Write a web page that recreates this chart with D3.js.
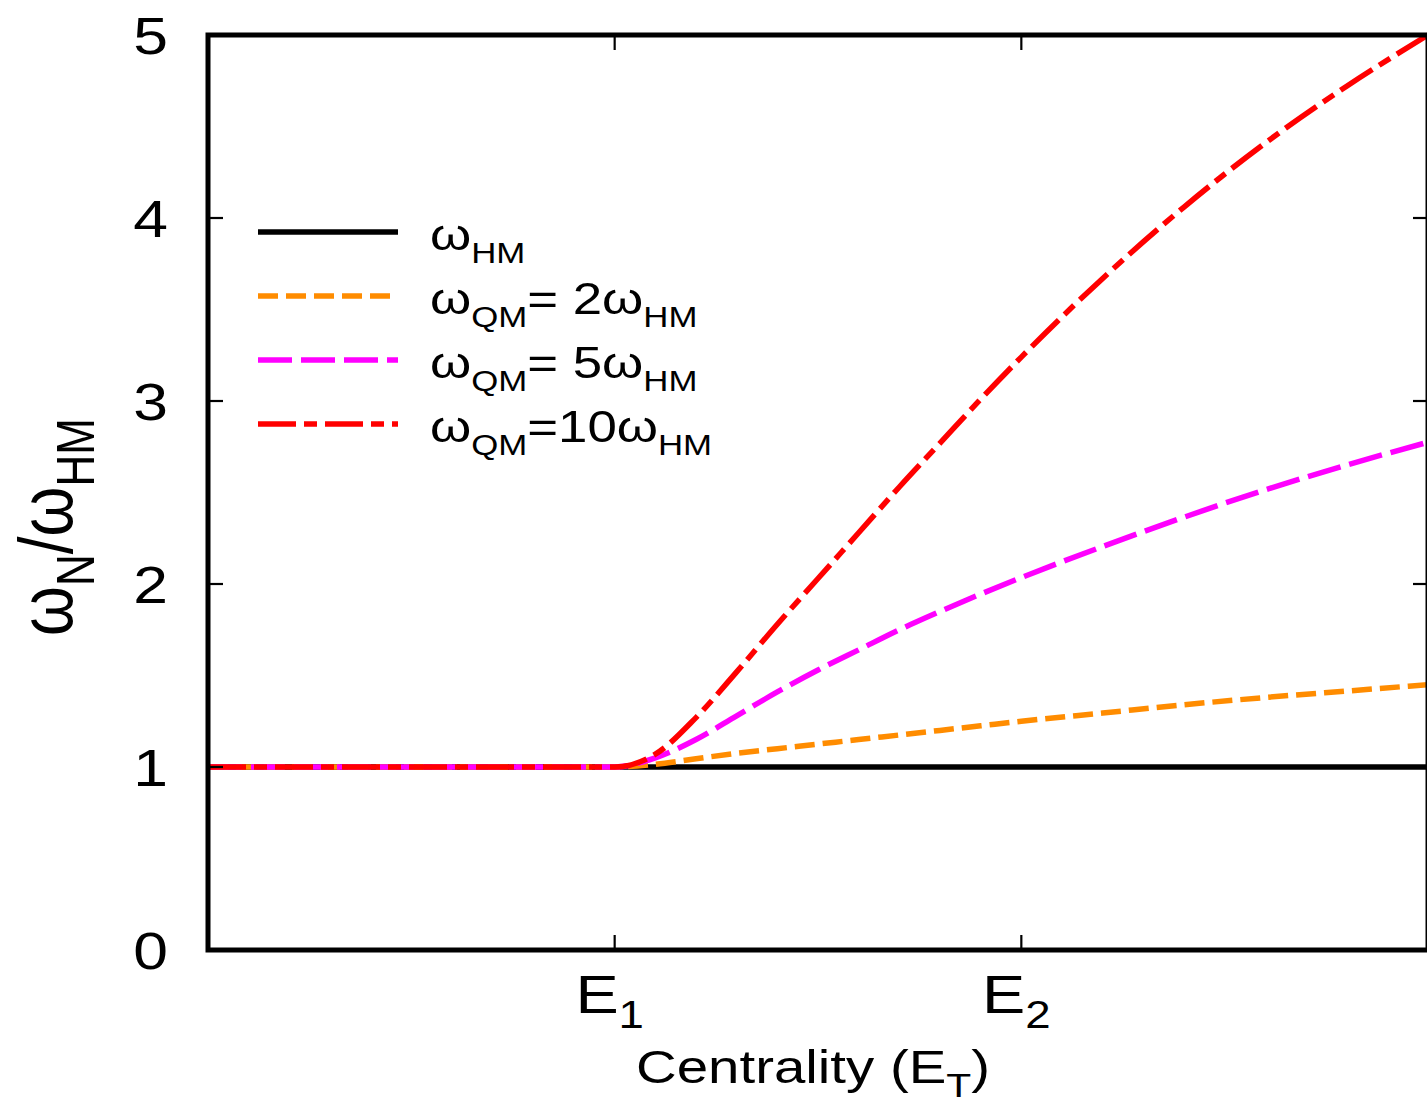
<!DOCTYPE html>
<html>
<head>
<meta charset="utf-8">
<script src="https://cdn.jsdelivr.net/npm/d3@7"></script>
<style>
  html, body { margin: 0; padding: 0; background: #fff; }
  svg { display: block; font-family: "Liberation Sans", Arial, sans-serif; }
</style>
</head>
<body>
<div id="chart"></div>
<script>
// centrality axis in units of E (E1 = 1, E2 = 2)
var xs = [0, 1.0, 1.1, 1.2, 1.3, 1.4, 1.5, 1.6, 1.7, 1.8, 1.9, 2.0, 2.2, 2.4, 2.6, 2.8, 3.0];

var hm    = [1, 1, 1, 1, 1, 1, 1, 1, 1, 1, 1, 1, 1, 1, 1, 1, 1];
var qm2   = [1, 1, 1.015, 1.045, 1.075, 1.10, 1.125, 1.15, 1.175, 1.20, 1.225, 1.25, 1.295, 1.34, 1.38, 1.415, 1.45];
var qm5   = [1, 1, 1.05, 1.15, 1.28, 1.41, 1.53, 1.64, 1.75, 1.85, 1.945, 2.035, 2.205, 2.365, 2.515, 2.65, 2.775];
var qm10  = [1, 1, 1.07, 1.27, 1.52, 1.78, 2.03, 2.28, 2.53, 2.77, 3.01, 3.24, 3.67, 4.06, 4.41, 4.72, 5.00];

var xticks = [{v: 1, name: "E", sub: "1"}, {v: 2, name: "E", sub: "2"}];
var yticks = [0, 1, 2, 3, 4, 5];

// legend text pieces: [text, isSubscript]
var series = [
  {values: hm,   color: "#000000", dash: null,          label: [["ω", 0], ["HM", 1]]},
  {values: qm2,  color: "#ff8c00", dash: "20,8",        label: [["ω", 0], ["QM", 1], ["= 2ω", 0], ["HM", 1]]},
  {values: qm5,  color: "#ff00ff", dash: "34,9",        label: [["ω", 0], ["QM", 1], ["= 5ω", 0], ["HM", 1]]},
  {values: qm10, color: "#ff0000", dash: "38,8,13,8",   label: [["ω", 0], ["QM", 1], ["=10ω", 0], ["HM", 1]]}
];

var W = 1427, H = 1103;
var mLeft = 208, mRight = 1428, mTop = 35, mBottom = 950;
var stretch = 1.2; // the original's lettering is a bit wider than Liberation Sans

var svg = d3.select("#chart").append("svg")
  .attr("width", W)
  .attr("height", H);

var x = d3.scaleLinear().domain([0, 3]).range([mLeft, mRight]);
var y = d3.scaleLinear().domain([0, 5]).range([mBottom, mTop]);

var line = d3.line()
  .x(function(d) { return x(d[0]); })
  .y(function(d) { return y(d[1]); })
  .curve(d3.curveMonotoneX);

svg.append("defs").append("clipPath").attr("id", "clip")
  .append("rect")
  .attr("x", mLeft).attr("y", mTop - 3)
  .attr("width", mRight - mLeft).attr("height", mBottom - mTop + 3);

// curves
svg.append("g")
  .attr("clip-path", "url(#clip)")
  .selectAll("path")
  .data(series)
  .enter()
  .append("path")
  .attr("d", function(s) { return line(xs.map(function(v, i) { return [v, s.values[i]]; })); })
  .attr("fill", "none")
  .attr("stroke", function(s) { return s.color; })
  .attr("stroke-width", 5.5)
  .attr("stroke-dasharray", function(s) { return s.dash; });

// ticks (inward, on all four sides)
var tickLen = 15;
var ticks = svg.append("g").attr("stroke", "#000").attr("stroke-width", 2.2);
yticks.forEach(function(t) {
  ticks.append("line").attr("x1", mLeft).attr("x2", mLeft + tickLen).attr("y1", y(t)).attr("y2", y(t));
  ticks.append("line").attr("x1", mRight - tickLen).attr("x2", mRight).attr("y1", y(t)).attr("y2", y(t));
});
xticks.forEach(function(t) {
  ticks.append("line").attr("x1", x(t.v)).attr("x2", x(t.v)).attr("y1", mBottom).attr("y2", mBottom - tickLen);
  ticks.append("line").attr("x1", x(t.v)).attr("x2", x(t.v)).attr("y1", mTop).attr("y2", mTop + tickLen);
});

// frame
svg.append("rect")
  .attr("x", mLeft).attr("y", mTop)
  .attr("width", mRight - mLeft).attr("height", mBottom - mTop)
  .attr("fill", "none")
  .attr("stroke", "#000")
  .attr("stroke-width", 5);

function place(px, py) {
  return "translate(" + px + "," + py + ") scale(" + stretch + ",1)";
}

// y tick labels
svg.append("g")
  .selectAll("text")
  .data(yticks)
  .enter()
  .append("text")
  .attr("transform", function(d) { return place(168, y(d)); })
  .attr("dy", "0.36em")
  .attr("text-anchor", "end")
  .style("font-size", "52px")
  .text(function(d) { return d; });

// x tick labels E1, E2
var xl = svg.append("g")
  .selectAll("text")
  .data(xticks)
  .enter()
  .append("text")
  .attr("transform", function(d) { return place(x(d.v) - 5, 1013); })
  .attr("text-anchor", "middle")
  .style("font-size", "54px");
xl.append("tspan").text(function(d) { return d.name; });
xl.append("tspan").attr("dy", 15).style("font-size", "38px").text(function(d) { return d.sub; });

// x axis title
var xt = svg.append("text")
  .attr("transform", place(813, 1083))
  .attr("text-anchor", "middle")
  .style("font-size", "47px");
xt.append("tspan").text("Centrality (E");
xt.append("tspan").attr("dy", 14).style("font-size", "34px").text("T");
xt.append("tspan").attr("dy", -14).text(")");

// y axis title
var yt = svg.append("text")
  .attr("transform", "translate(72,527) scale(" + stretch + ",1) rotate(-90)")
  .attr("text-anchor", "middle")
  .style("font-size", "64px");
yt.append("tspan").text("ω");
yt.append("tspan").attr("dy", 18).style("font-size", "44px").text("N");
yt.append("tspan").attr("dy", -18).text("/ω");
yt.append("tspan").attr("dy", 18).style("font-size", "44px").text("HM");

// legend
var leg = svg.append("g")
  .selectAll(".leg")
  .data(series)
  .enter()
  .append("g")
  .attr("class", "leg")
  .attr("transform", function(d, i) { return "translate(0," + (232 + i * 64) + ")"; });

leg.append("line")
  .attr("x1", 258).attr("x2", 398)
  .attr("y1", 0).attr("y2", 0)
  .attr("stroke", function(d) { return d.color; })
  .attr("stroke-width", 5.5)
  .attr("stroke-dasharray", function(d) { return d.dash; });

leg.append("text")
  .attr("transform", place(430, 18))
  .style("font-size", "44px")
  .style("white-space", "pre")
  .each(function(d) {
    var t = d3.select(this);
    var low = false;
    d.label.forEach(function(p) {
      var ts = t.append("tspan").text(p[0]);
      if (p[1]) {
        ts.style("font-size", "29px");
        if (!low) { ts.attr("dy", 13); low = true; }
      } else if (low) {
        ts.attr("dy", -13);
        low = false;
      }
    });
  });
</script>
</body>
</html>
